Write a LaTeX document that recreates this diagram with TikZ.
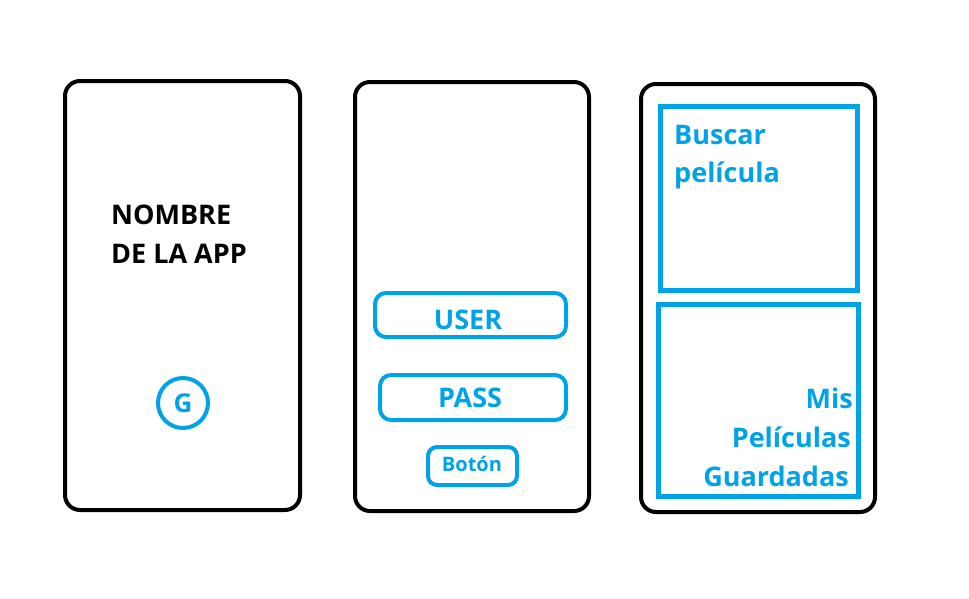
\documentclass[tikz,border=0pt]{standalone}
\usepackage{fontspec}
\setmainfont{Open Sans}
\definecolor{pblue}{RGB}{0,162,232}
\tikzset{
  phone/.style={draw=black, line width=4pt, rounded corners=15pt, inner sep=0pt},
  field/.style={draw=pblue, line width=4pt, rounded corners=11pt, inner sep=0pt},
  panel/.style={draw=pblue, line width=5pt, inner sep=0pt},
  bigtxt/.style={inner sep=0pt, font=\bfseries\fontsize{27}{30}\selectfont},
  btntxt/.style={inner sep=0pt, text=pblue, font=\bfseries\fontsize{20}{24}\selectfont},
}
\begin{document}
\begin{tikzpicture}[x=1pt,y=-1pt]
\useasboundingbox (0,0) rectangle (969,598);
% phones
\node[phone, minimum width=235pt, minimum height=429pt] (p1) at (182.5,295.5) {};
\node[phone, minimum width=234pt, minimum height=429pt] (p2) at (472,296.5) {};
\node[phone, minimum width=234pt, minimum height=428pt] (p3) at (758,298) {};
% phone 1
\node[bigtxt, anchor=base west] (n1) at (111,224) {NOMBRE};
\node[bigtxt, anchor=base west] (n2) at (111,263) {DE LA APP};
\node[draw=pblue, line width=4pt, circle, minimum size=50pt, inner sep=0pt] (g) at (183,403) {};
\node[btntxt, font=\bfseries\fontsize{26}{28}\selectfont, anchor=base] (gt) at (183,412.5) {G};
% phone 2
\node[field, minimum width=191pt, minimum height=44pt] (user) at (470.5,315) {};
\node[bigtxt, text=pblue, anchor=base] (usert) at (468,329) {USER};
\node[field, minimum width=186pt, minimum height=45pt] (pass) at (473,397.5) {};
\node[bigtxt, text=pblue, anchor=base] (passt) at (470,407) {PASS};
\node[field, rounded corners=9pt, minimum width=89pt, minimum height=38pt] (btn) at (472.5,466) {};
\node[btntxt, anchor=base] (btnt) at (472,471) {Botón};
% phone 3
\node[panel, minimum width=197pt, minimum height=184pt] (buscar) at (759,198.5) {};
\node[bigtxt, text=pblue, anchor=base west] (b1) at (674,144) {Buscar};
\node[bigtxt, text=pblue, anchor=base west] (b2) at (674,182) {película};
\node[panel, minimum width=200pt, minimum height=192pt] (mis) at (758.5,400.5) {};
\node[bigtxt, text=pblue, anchor=base east] (m1) at (853,408) {Mis};
\node[bigtxt, text=pblue, anchor=base east] (m2) at (851,447) {Películas};
\node[bigtxt, text=pblue, anchor=base east] (m3) at (849,486) {Guardadas};
\end{tikzpicture}
\end{document}
